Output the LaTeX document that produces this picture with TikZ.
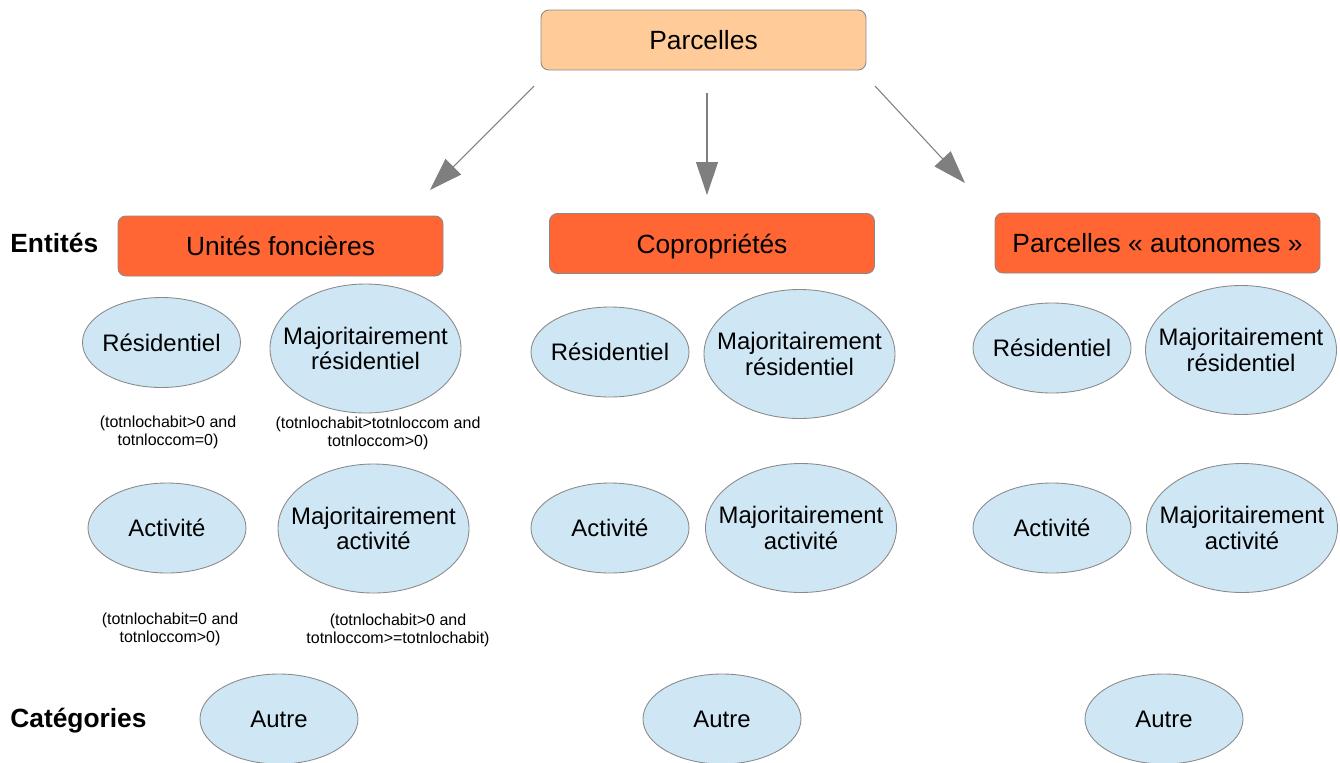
\documentclass[tikz,border=0pt]{standalone}
\usepackage{fontspec}
\setmainfont{Liberation Sans}
\usetikzlibrary{shapes.geometric,arrows.meta}
\definecolor{peach}{HTML}{FFCC99}
\definecolor{orng}{HTML}{FF6633}
\definecolor{lblue}{HTML}{CFE7F5}
\definecolor{edgegray}{HTML}{8A8A8A}
\definecolor{arrgray}{HTML}{7F7F7F}
\def\pxu{0.02cm}
\begin{document}
\begin{tikzpicture}[x=0.02cm,y=-0.02cm,
 box/.style={draw=edgegray, line width=0.5pt, rounded corners=4.5pt, minimum width=325*\pxu, minimum height=60*\pxu, font=\fontsize{15}{18}\selectfont, inner sep=0, text height=11pt, text depth=0pt},
 topbox/.style={box, fill=peach},
 entbox/.style={box, fill=orng},
 blob/.style={ellipse, draw=edgegray, fill=lblue, inner sep=0, line width=0.5pt},
 smallblob/.style={blob, minimum width=158*\pxu, minimum height=90*\pxu},
 bigblob/.style={blob, minimum width=191*\pxu, minimum height=129*\pxu},
 etxt/.style={font=\fontsize{13.6}{14.5}\selectfont, align=center, inner sep=0},
 cond/.style={font=\fontsize{9.1}{10.4}\selectfont, align=center, inner sep=0},
 hdr/.style={font=\bfseries\fontsize{15}{18}\selectfont, anchor=west, inner sep=0},
 arr/.style={draw=arrgray, line width=0.6pt, -{Triangle[width=22*\pxu,length=33*\pxu]}}
]
\useasboundingbox (0,0) rectangle (1340,762);

% top
\node[topbox] (parc) at (703.5,40) {Parcelles};

% entities
\node[entbox] (uf) at (280.5,246) {Unités foncières};
\node[entbox] (cop) at (712,243.5) {Copropriétés};
\node[entbox] (auto) at (1157.5,243) {Parcelles~« autonomes~»};

% headers
\node[hdr] (hent) at (10,243) {Entités};
\node[hdr] (hcat) at (10,721) {Catégories};

% arrows
\coordinate (a1s) at (534,86);  \coordinate (a1e) at (430,190);
\coordinate (a2s) at (707,93);  \coordinate (a2e) at (707,195);
\coordinate (a3s) at (875,86);  \coordinate (a3e) at (965,183);
\draw[arr] (a1s) -- (a1e);
\draw[arr] (a2s) -- (a2e);
\draw[arr] (a3s) -- (a3e);

% group 1
\node[smallblob, label={[etxt]center:Résidentiel}] (r1) at (161.5,342.5) {};
\node[bigblob, label={[etxt]center:Majoritairement\\résidentiel}] (mr1) at (365.5,348.5) {};
\node[smallblob, label={[etxt]center:Activité}] (a1) at (167,528) {};
\node[bigblob, label={[etxt]center:Majoritairement\\activité}] (ma1) at (373.5,528.5) {};
\node[smallblob, label={[etxt]center:Autre}] (o1) at (279,719) {};

\node[cond] (c1) at (168,432) {(totnlochabit>0 and\\totnloccom=0)};
\node[cond] (c2) at (378,433) {(totnlochabit>totnloccom and\\totnloccom>0)};
\node[cond] (c3) at (170,629) {(totnlochabit=0 and\\totnloccom>0)};
\node[cond] (c4) at (398,630) {(totnlochabit>0 and\\totnloccom>=totnlochabit)};

% group 2
\node[smallblob, label={[etxt]center:Résidentiel}] (r2) at (610,352) {};
\node[bigblob, label={[etxt]center:Majoritairement\\résidentiel}] (mr2) at (799.5,354) {};
\node[smallblob, label={[etxt]center:Activité}] (a2) at (610,528) {};
\node[bigblob, label={[etxt]center:Majoritairement\\activité}] (ma2) at (801,528) {};
\node[smallblob, label={[etxt]center:Autre}] (o2) at (722,719) {};

% group 3
\node[smallblob, label={[etxt]center:Résidentiel}] (r3) at (1052,348) {};
\node[bigblob, label={[etxt]center:Majoritairement\\résidentiel}] (mr3) at (1241,350) {};
\node[smallblob, label={[etxt]center:Activité}] (a3) at (1052,528) {};
\node[bigblob, label={[etxt]center:Majoritairement\\activité}] (ma3) at (1242,528) {};
\node[smallblob, label={[etxt]center:Autre}] (o3) at (1164,719) {};
\end{tikzpicture}
\end{document}
